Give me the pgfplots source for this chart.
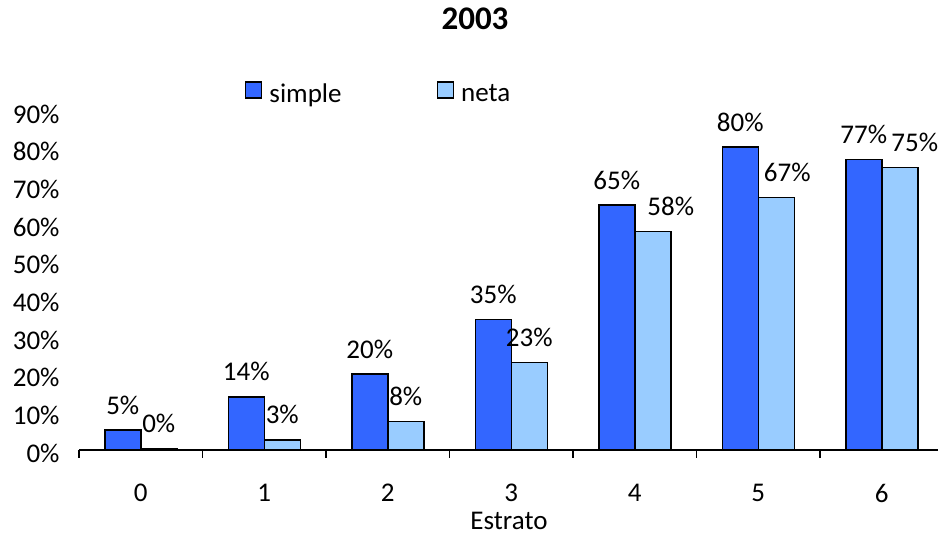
\documentclass[border=0pt]{standalone}
\usepackage{fontspec}
\setmainfont{Carlito}
\usepackage{pgfplots}
\usepackage{pgfplotstable}
\pgfplotsset{compat=1.18}
\definecolor{simplec}{HTML}{3366FF}
\definecolor{netac}{HTML}{99CCFF}
\pgfplotstableread{
x y dx
0 5.3 0
1 14.1 0
2 20.2 0
3 34.7 0
4 65 0
5 80.4 0
6 77.1 0
}\simpletab
\pgfplotstableread{
x y dx
0 0.4 0
1 2.7 0
2 7.6 0
3 23.2 0
4 58 18
5 67 11
6 75 15
}\netatab
\begin{document}
\fontsize{27}{32}\selectfont
\begin{tikzpicture}
\begin{axis}[
  scale only axis, width=859pt, height=339pt,
  xmin=-0.5, xmax=6.455, ymin=0, ymax=90,
  ybar=0pt, bar width=36pt,
  axis x line*=bottom, axis y line*=left,
  x axis line style={-, line width=1.2pt},
  y axis line style={draw=none},
  xtick={0,1,2,3,4,5,6},
  major x tick style={draw=none},
  minor xtick={-0.5,0.5,1.5,2.5,3.5,4.5,5.5},
  minor x tick style={draw=black, line width=1.2pt},
  minor tick length=8pt,
  tick align=outside,
  ytick={0,10,...,90},
  yticklabel={\pgfmathprintnumber{\tick}\%},
  ytick style={draw=none},
  /pgf/number format/assume math mode=true,
  tick label style={font=\fontsize{27}{32}\selectfont},
  xticklabel style={yshift=-21pt},
  yticklabel style={xshift=-6pt, yshift=-3pt},
  xlabel={Estrato},
  xlabel style={at={(axis description cs:0.5006,-0.209)}, anchor=center, font=\fontsize{27}{32}\selectfont},
  title={2003},
  title style={at={(axis description cs:0.461,1.253)}, anchor=center, font=\fontsize{33}{38}\selectfont\bfseries},
  visualization depends on={\thisrow{dx} \as \dx},
  nodes near coords={\pgfmathprintnumber[fixed,precision=0]{\pgfplotspointmeta}\%},
  every node near coord/.append style={anchor=center, yshift=25pt, xshift=\dx pt, font=\fontsize{27}{32}\selectfont, black},
  legend style={at={(axis description cs:0.193,1.059)}, anchor=west, draw=none, fill=none, inner sep=0pt,
    font=\fontsize{27}{32}\selectfont, legend columns=2,
    nodes={inner sep=0pt},
    /tikz/every odd column/.append style={column sep=7pt},
    /tikz/every even column/.append style={column sep=95pt}},
  legend image code/.code={\draw[#1,/tikz/.cd,line width=1.5pt] (0pt,-3pt) rectangle (16pt,13pt); \path (0pt,19pt);},
]
\addplot[fill=simplec, draw=black, line width=1.5pt] table[x=x,y=y] {\simpletab};
\addplot[fill=netac, draw=black, line width=1.5pt] table[x=x,y=y] {\netatab};
\legend{simple, neta}
\end{axis}
\pgfresetboundingbox
\useasboundingbox (-79pt,-90pt) rectangle (859pt,450pt);
\end{tikzpicture}
\end{document}
